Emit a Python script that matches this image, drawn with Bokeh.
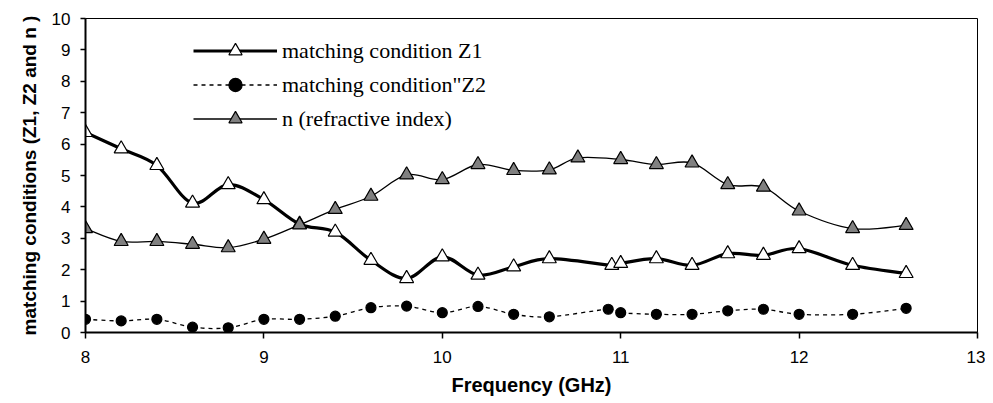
import numpy as np
from bokeh.plotting import figure
from bokeh.models import Legend, LegendItem, ColumnDataSource, FixedTicker, Range1d
from bokeh.embed import file_html
from bokeh.resources import INLINE

# ---- data ----
freq_z1 = [8.0, 8.2, 8.4, 8.6, 8.8, 9.0, 9.2, 9.4, 9.6, 9.8, 10.0, 10.2, 10.4, 10.6,
           10.95, 11.0, 11.2, 11.4, 11.6, 11.8, 12.0, 12.3, 12.6]
z1 = [6.37, 5.85, 5.32, 4.12, 4.71, 4.23, 3.45, 3.20, 2.30, 1.72, 2.41, 1.83, 2.09, 2.35,
      2.14, 2.20, 2.35, 2.14, 2.51, 2.46, 2.67, 2.14, 1.88]

freq_z2 = [8.0, 8.2, 8.4, 8.6, 8.8, 9.0, 9.2, 9.4, 9.6, 9.8, 10.0, 10.2, 10.4, 10.6,
           10.93, 11.0, 11.2, 11.4, 11.6, 11.8, 12.0, 12.3, 12.6]
z2 = [0.42, 0.37, 0.42, 0.17, 0.15, 0.42, 0.42, 0.52, 0.79, 0.84, 0.63, 0.83, 0.58, 0.50,
      0.74, 0.63, 0.58, 0.58, 0.69, 0.74, 0.58, 0.58, 0.77]

freq_n = [8.0, 8.2, 8.4, 8.6, 8.8, 9.0, 9.2, 9.4, 9.6, 9.8, 10.0, 10.2, 10.4, 10.6,
          10.76, 11.0, 11.2, 11.4, 11.6, 11.8, 12.0, 12.3, 12.6]
n_index = [3.31, 2.90, 2.90, 2.81, 2.70, 2.97, 3.43, 3.92, 4.34, 5.02, 4.87, 5.35, 5.16, 5.18,
           5.56, 5.51, 5.35, 5.40, 4.71, 4.63, 3.87, 3.31, 3.41]

labels = ['matching condition Z1', 'matching condition"Z2', 'n (refractive index)']
x_ticks = [8, 9, 10, 11, 12, 13]
y_ticks = [0, 1, 2, 3, 4, 5, 6, 7, 8, 9, 10]


def smooth_segments(xs, ys, k=1.0 / 6.0):
    """Catmull-Rom style bezier control points (like a spreadsheet's smoothed line)."""
    x = np.asarray(xs, float)
    y = np.asarray(ys, float)
    xp = np.concatenate([[x[0]], x, [x[-1]]])
    yp = np.concatenate([[y[0]], y, [y[-1]]])
    n = len(x)
    d = dict(x0=[], y0=[], x1=[], y1=[], cx0=[], cy0=[], cx1=[], cy1=[])
    for i in range(n - 1):
        j = i + 1
        d["x0"].append(x[i]); d["y0"].append(y[i])
        d["x1"].append(x[i + 1]); d["y1"].append(y[i + 1])
        d["cx0"].append(x[i] + (xp[j + 1] - xp[j - 1]) * k)
        d["cy0"].append(y[i] + (yp[j + 1] - yp[j - 1]) * k)
        d["cx1"].append(x[i + 1] - (xp[j + 2] - xp[j]) * k)
        d["cy1"].append(y[i + 1] - (yp[j + 2] - yp[j]) * k)
    return ColumnDataSource(d)


p = figure(width=985, height=398, output_backend="svg", toolbar_location=None,
           x_range=Range1d(8, 13), y_range=Range1d(0, 10),
           min_border_left=85, min_border_right=8, min_border_top=18, min_border_bottom=66)

p.xgrid.visible = False
p.ygrid.visible = False
p.outline_line_color = "black"
p.outline_line_width = 1
p.background_fill_color = "white"
p.border_fill_color = "white"

styles = [
    dict(xs=freq_z1, ys=z1, lw=3.2, dash="solid", marker="triangle", size=14, fill="white"),
    dict(xs=freq_z2, ys=z2, lw=1.3, dash="4 4", marker="circle", size=10, fill="black"),
    dict(xs=freq_n, ys=n_index, lw=1.3, dash="solid", marker="triangle", size=14, fill="#808080"),
]

items = []
for st, lab in zip(styles, labels):
    src = smooth_segments(st["xs"], st["ys"])
    curve = p.bezier(x0="x0", y0="y0", x1="x1", y1="y1", cx0="cx0", cy0="cy0",
                     cx1="cx1", cy1="cy1", source=src, line_color="black",
                     line_width=st["lw"], line_dash=st["dash"])
    sc = p.scatter(x=st["xs"], y=st["ys"], marker=st["marker"], size=st["size"],
                   fill_color=st["fill"], line_color="black", line_width=1.2)
    items.append(LegendItem(label=lab, renderers=[curve, sc]))

legend = Legend(items=items, location=(108, 197), orientation="vertical",
                glyph_width=84, glyph_height=33, label_height=33, spacing=1,
                label_standoff=5, padding=0, margin=0,
                border_line_color=None, background_fill_alpha=0,
                label_text_font="Liberation Serif", label_text_font_size="22px",
                label_text_color="black")
p.add_layout(legend, "center")

for ax in (p.xaxis[0], p.yaxis[0]):
    ax.axis_line_color = "black"
    ax.axis_line_width = 2
    ax.major_tick_line_color = "black"
    ax.major_tick_line_width = 1.5
    ax.major_tick_in = 0
    ax.minor_tick_line_color = None
    ax.major_label_text_font = "Liberation Sans"
    ax.major_label_text_font_size = "17px"
    ax.major_label_text_color = "black"
    ax.axis_label_text_font = "Liberation Sans"
    ax.axis_label_text_font_style = "bold"
    ax.axis_label_text_color = "black"

p.xaxis.ticker = FixedTicker(ticks=x_ticks)
p.yaxis.ticker = FixedTicker(ticks=y_ticks)
p.xaxis.major_tick_out = 6
p.yaxis.major_tick_out = 5
p.xaxis.major_label_standoff = 12
p.yaxis.major_label_standoff = 10
p.xaxis.axis_label = "Frequency (GHz)"
p.yaxis.axis_label = "matching conditions (Z1, Z2 and n )"
p.xaxis.axis_label_text_font_size = "20px"
p.yaxis.axis_label_text_font_size = "19px"
p.xaxis.axis_label_standoff = 8
p.yaxis.axis_label_standoff = 9

open("out.html", "w").write(file_html(p, INLINE))
